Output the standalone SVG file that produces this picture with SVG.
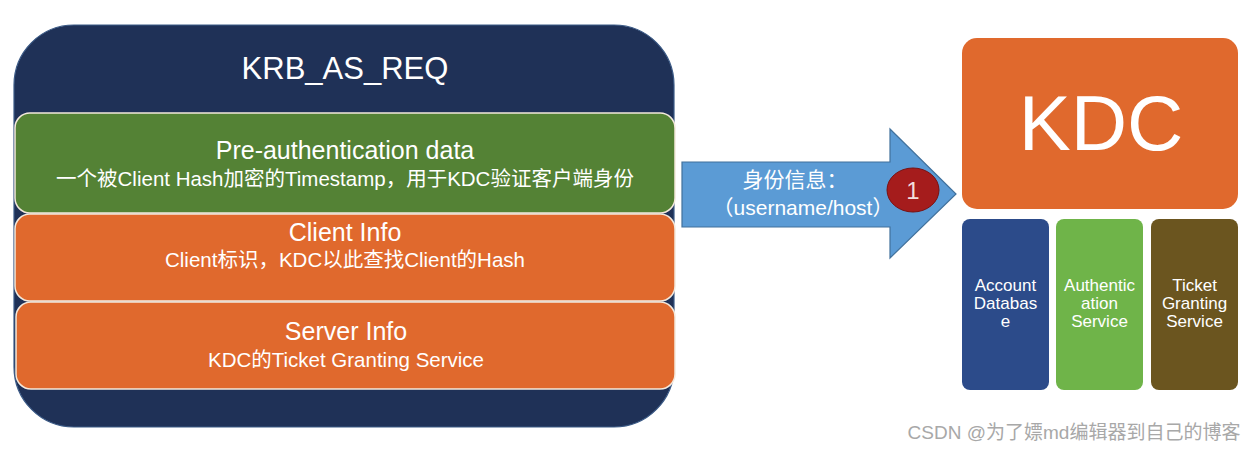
<svg xmlns="http://www.w3.org/2000/svg" width="1258" height="452" viewBox="0 0 1258 452">
<style>
.t{font-family:"Liberation Sans","Noto Sans CJK SC",Arial,sans-serif;fill:#ffffff;text-anchor:middle}
.band{stroke:#f4e9dc;stroke-width:1.5}
.small{stroke:none}
</style>
<rect width="1258" height="452" fill="#ffffff"/>
<g id="krb_as_req">
<rect x="14" y="25" width="660" height="402" rx="60" ry="60" fill="#1f3157" stroke="#3b5a86" stroke-width="1.2"/>
<text class="t" x="345" y="79" font-size="31">KRB_AS_REQ</text>
</g>
<g id="preauth">
<rect class="band" x="15" y="113" width="660" height="100" rx="15" fill="#548235"/>
<text class="t" x="345" y="159" font-size="25">Pre-authentication data</text>
<text class="t" x="345" y="186" font-size="20.5">一个被Client Hash加密的Timestamp，用于KDC验证客户端身份</text>
</g>
<g id="client_info">
<rect class="band" x="15" y="214" width="660" height="87" rx="15" fill="#e0692d"/>
<text class="t" x="345" y="241" font-size="25">Client Info</text>
<text class="t" x="345" y="267" font-size="20.5">Client标识，KDC以此查找Client的Hash</text>
</g>
<g id="server_info">
<rect class="band" x="16" y="302" width="659" height="87" rx="15" fill="#e0692d"/>
<text class="t" x="346" y="340" font-size="25">Server Info</text>
<text class="t" x="346" y="367" font-size="20.5">KDC的Ticket Granting Service</text>
</g>
<g id="connectors">
<polygon points="682,162 890,162 890,129 956,194 890,258 890,227 682,227" fill="#5b9bd5" stroke="#41719c" stroke-width="1.2"/>
<text class="t" x="795" y="187" font-size="21">身份信息：</text>
<text class="t" x="803" y="215" font-size="21">（username/host）</text>
</g>
<g id="step1">
<ellipse cx="913" cy="190" rx="26" ry="22" fill="#a51c1c" stroke="#7a1010" stroke-width="1"/>
<text class="t" x="913" y="199" font-size="24" style="fill:#f2dede">1</text>
</g>
<g id="kdc">
<rect x="962" y="38" width="276" height="171" rx="15" fill="#e0692d"/>
<text class="t" x="1101" y="150" font-size="78">KDC</text>
</g>
<g id="account_db">
<rect class="small" x="962" y="219" width="87" height="171" rx="8" fill="#2c4b8a"/>
<text class="t" x="1005.5" y="291" font-size="17">Account</text>
<text class="t" x="1005.5" y="309" font-size="17">Databas</text>
<text class="t" x="1005.5" y="327" font-size="17">e</text>
</g>
<g id="auth_service">
<rect class="small" x="1056" y="219" width="87" height="171" rx="8" fill="#6fb449"/>
<text class="t" x="1099.5" y="291" font-size="17">Authentic</text>
<text class="t" x="1099.5" y="309" font-size="17">ation</text>
<text class="t" x="1099.5" y="327" font-size="17">Service</text>
</g>
<g id="tgs">
<rect class="small" x="1151" y="219" width="87" height="171" rx="8" fill="#6b551f"/>
<text class="t" x="1194.5" y="291" font-size="17">Ticket</text>
<text class="t" x="1194.5" y="309" font-size="17">Granting</text>
<text class="t" x="1194.5" y="327" font-size="17">Service</text>
</g>
<text x="1074" y="439" font-size="19" style="font-family:'Liberation Sans','Noto Sans CJK SC',sans-serif;fill:#a8a8a8;text-anchor:middle">CSDN @为了嫖md编辑器到自己的博客</text>
</svg>
